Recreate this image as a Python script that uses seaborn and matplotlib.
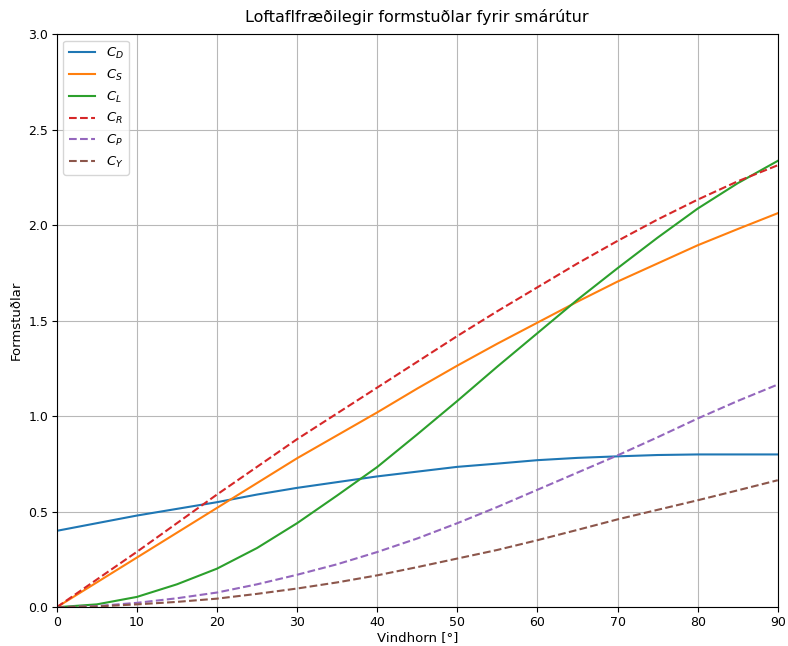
import numpy as np
import pandas as pd
import matplotlib
matplotlib.use("Agg")
import matplotlib.pyplot as plt
import seaborn as sns

# Values (every 5 degrees)
angle = [0, 5, 10, 15, 20, 25, 30, 35, 40, 45, 50, 55, 60, 65, 70, 75, 80, 85, 90]

c_d = [0.40, 0.44, 0.48, 0.515, 0.55, 0.59, 0.625, 0.655, 0.685, 0.71, 0.735,
       0.752, 0.77, 0.782, 0.79, 0.797, 0.80, 0.80, 0.80]
c_s = [0.0, 0.13, 0.26, 0.39, 0.52, 0.65, 0.78, 0.90, 1.02, 1.145, 1.265,
       1.38, 1.49, 1.60, 1.705, 1.80, 1.895, 1.98, 2.063]
c_l = [0.0, 0.015, 0.054, 0.12, 0.202, 0.31, 0.44, 0.585, 0.734, 0.905, 1.08,
       1.26, 1.435, 1.61, 1.775, 1.935, 2.087, 2.22, 2.337]
c_r = [0.0, 0.145, 0.29, 0.44, 0.59, 0.735, 0.88, 1.015, 1.15, 1.285, 1.42,
       1.55, 1.675, 1.80, 1.918, 2.03, 2.134, 2.23, 2.314]
c_p = [0.0, 0.006, 0.023, 0.047, 0.077, 0.12, 0.17, 0.225, 0.289, 0.36, 0.44,
       0.525, 0.615, 0.705, 0.795, 0.89, 0.988, 1.08, 1.166]
c_y = [0.0, 0.004, 0.015, 0.028, 0.045, 0.07, 0.098, 0.13, 0.167, 0.21, 0.255,
       0.30, 0.351, 0.405, 0.46, 0.51, 0.56, 0.612, 0.665]

labels = ["$C_D$", "$C_S$", "$C_L$", "$C_R$", "$C_P$", "$C_Y$"]
series = [c_d, c_s, c_l, c_r, c_p, c_y]
styles = ["-", "-", "-", "--", "--", "--"]
colors = sns.color_palette("tab10", 6)

fig, ax = plt.subplots(figsize=(7.88, 6.46), dpi=100)

for lab, vals, ls, col in zip(labels, series, styles, colors):
    df = pd.DataFrame({"angle": angle, "value": vals})
    sns.lineplot(data=df, x="angle", y="value", ax=ax, label=lab,
                 color=col, linestyle=ls, linewidth=1.5)

ax.set_xlim(0, 90)
ax.set_ylim(0, 3.0)
ax.set_xticks(np.arange(0, 91, 10))
ax.set_yticks(np.arange(0, 3.01, 0.5))
ax.tick_params(labelsize=9, pad=2.5)
ax.grid(True, color="#b8b8b8", linewidth=0.8)
ax.set_xlabel("Vindhorn [°]", fontsize=9.5, labelpad=2)
ax.set_ylabel("Formstuðlar", fontsize=9.5, labelpad=4)
ax.set_title("Loftaflfræðilegir formstuðlar fyrir smárútur", fontsize=11.5, pad=9)
ax.legend(loc="upper left", fontsize=9.5)

fig.subplots_adjust(left=0.072, right=0.987, top=0.947, bottom=0.06)
fig.savefig("out.png", dpi=100)
